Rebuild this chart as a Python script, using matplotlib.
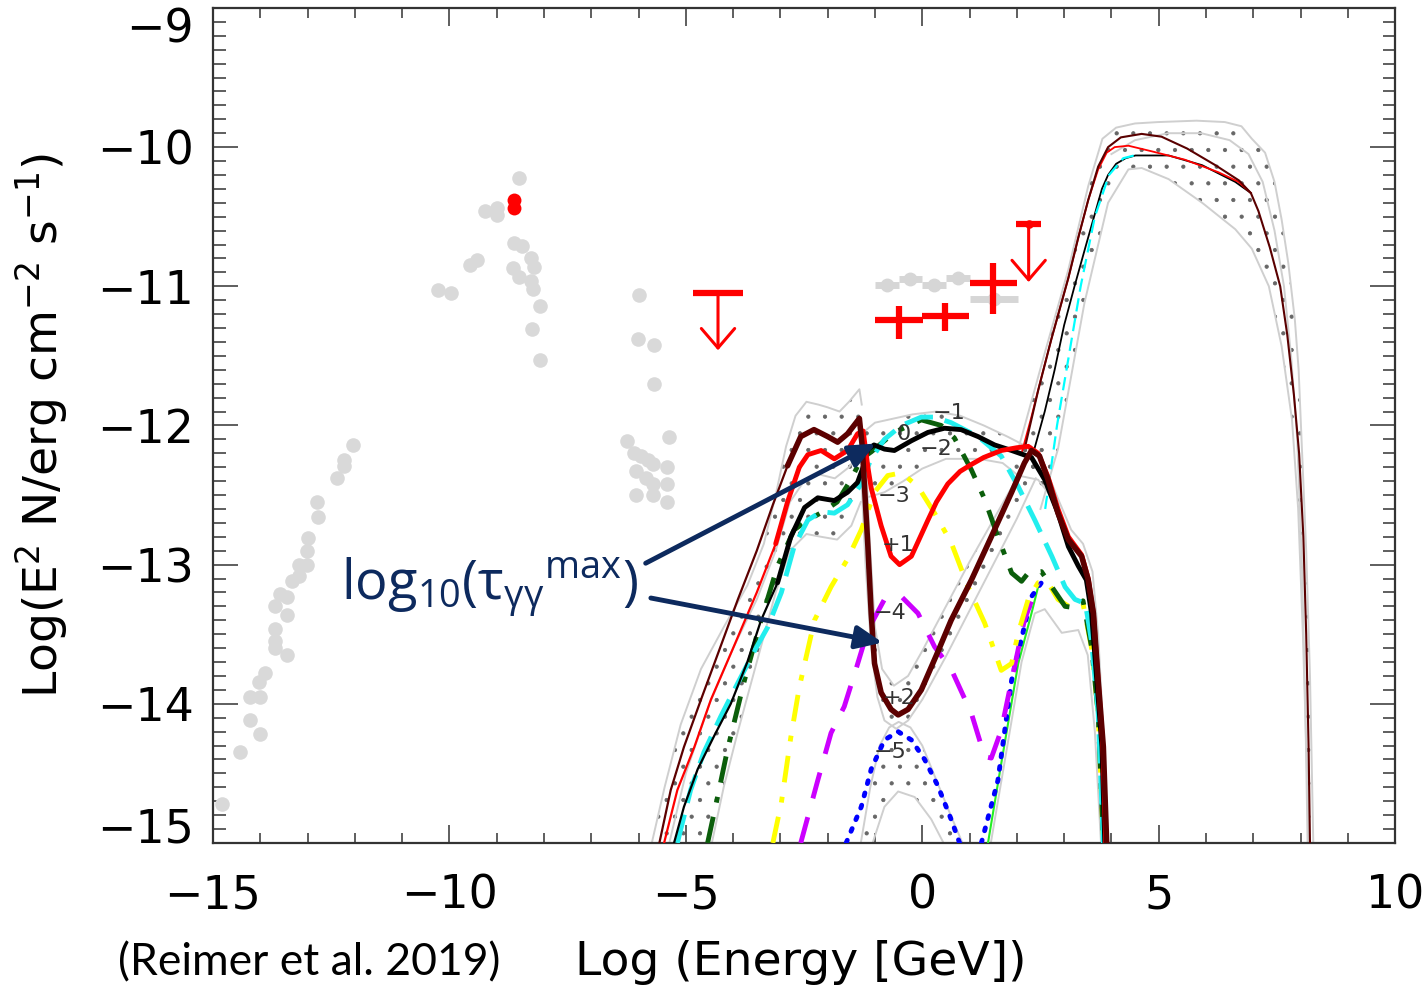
import numpy as np
import matplotlib
matplotlib.use("Agg")
import matplotlib.pyplot as plt
from matplotlib.ticker import MultipleLocator

# ---------------------------------------------------------------------------
# Observed SED points (log E [GeV], log E^2 N)
# ---------------------------------------------------------------------------
obs_x = [-14.82, -14.44, -14.22, -14.00, -14.22, -14.00, -14.02, -13.90, -13.44,
         -13.69, -13.69, -13.69, -13.44, -13.69, -13.58, -13.44, -13.33, -13.19,
         -13.19, -13.02, -13.02, -13.00, -12.77, -12.80, -12.38, -12.22, -12.22,
         -12.03, -10.25, -9.96, -9.57, -9.41, -9.24, -8.99, -8.99, -8.53, -8.64,
         -8.46, -8.28, -8.21, -8.65, -8.53, -8.28, -8.23, -8.09, -8.26, -8.09,
         -6.00, -6.02, -5.68, -5.68, -6.25, -5.36, -6.10, -5.95, -5.80, -5.70,
         -5.40, -6.05, -5.85, -5.70, -5.40, -6.05, -5.70, -5.40]
obs_y = [-14.72, -14.35, -14.12, -14.22, -13.95, -13.95, -13.84, -13.78, -13.65,
         -13.60, -13.55, -13.46, -13.36, -13.30, -13.21, -13.23, -13.12, -13.08,
         -13.00, -13.00, -12.90, -12.81, -12.66, -12.55, -12.38, -12.29, -12.25,
         -12.14, -11.03, -11.05, -10.85, -10.81, -10.46, -10.44, -10.49, -10.22,
         -10.69, -10.71, -10.80, -10.86, -10.87, -10.93, -10.96, -11.02, -11.14,
         -11.31, -11.53, -11.06, -11.38, -11.42, -11.70, -12.11, -12.08, -12.20,
         -12.22, -12.25, -12.28, -12.30, -12.33, -12.38, -12.42, -12.42, -12.50,
         -12.50, -12.55]

flare_x = [-8.64, -8.64]
flare_y = [-10.38, -10.44]

# binned gamma-ray spectrum (archival)
lat_x = [-0.75, -0.25, 0.25, 0.76, 1.52]
lat_y = [-10.99, -10.945, -10.99, -10.94, -11.09]
lat_xerr = [0.25, 0.25, 0.25, 0.25, 0.5]

# binned gamma-ray spectrum (flare)
flr_x = [-0.49, 0.49, 1.50]
flr_y = [-11.24, -11.21, -10.98]
flr_xerr = [0.5, 0.5, 0.5]
flr_yerr_lo = [0.14, 0.11, 0.22]
flr_yerr_hi = [0.10, 0.09, 0.15]

# upper limits: energy, half bin width, flux, arrow tip
ul_x = [-4.32, 2.25]
ul_halfw = [0.52, 0.26]
ul_y = [-11.045, -10.55]
ul_tip = [-11.46, -10.97]

# ---------------------------------------------------------------------------
# Model spectra, one per log10(tau_gg^max)
# ---------------------------------------------------------------------------
p2_x = [-5.56, -5.32, -5.04, -4.68, -4.30, -3.90, -3.50, -3.16, -2.85, -2.57,
        -2.29, -2.00, -1.79, -1.58, -1.33, -1.27, -1.15, -1.08, -1.01, -0.87,
        -0.66, -0.51, -0.30, -0.02, 0.30, 0.61, 1.04, 1.46, 1.89, 2.16, 2.31,
        2.48, 2.66, 2.87, 3.09, 3.37, 3.51, 3.62, 3.72, 3.83, 3.90]
p2_y = [-15.00, -14.62, -14.31, -13.97, -13.62, -13.25, -12.90, -12.57, -12.29,
        -12.08, -12.03, -12.08, -12.12, -12.06, -11.95, -12.15, -12.87, -13.35,
        -13.71, -13.92, -14.04, -14.08, -14.04, -13.90, -13.65, -13.40, -13.11,
        -12.80, -12.48, -12.27, -12.18, -12.22, -12.39, -12.63, -12.82, -12.94,
        -13.11, -13.35, -13.83, -14.31, -15.00]

p1_x = [-5.46, -5.18, -4.82, -4.47, -4.00, -3.50, -3.10, -2.85, -2.60, -2.42,
        -2.14, -1.86, -1.58, -1.37, -1.25, -1.15, -1.08, -0.87, -0.66, -0.48,
        -0.23, 0.12, 0.30, 0.54, 0.80, 1.04, 1.30, 1.67, 2.00, 2.24, 2.45, 2.66,
        2.87, 3.09, 3.37, 3.51, 3.62, 3.72, 3.82, 3.88]
p1_y = [-15.00, -14.62, -14.31, -13.97, -13.60, -13.20, -12.85, -12.55, -12.30,
        -12.21, -12.18, -12.24, -12.18, -12.06, -12.04, -12.30, -12.45, -12.72,
        -12.94, -13.00, -12.94, -12.68, -12.55, -12.42, -12.33, -12.28, -12.23,
        -12.18, -12.16, -12.15, -12.20, -12.37, -12.60, -12.80, -12.93, -13.10,
        -13.35, -13.83, -14.31, -15.00]

t0_x = [-5.25, -5.04, -4.75, -4.40, -4.05, -3.70, -3.41, -3.06, -2.78, -2.49,
        -2.21, -1.86, -1.58, -1.37, -1.25, -1.15, -1.02, -0.80, -0.59, -0.23,
        0.12, 0.47, 0.82, 1.18, 1.53, 1.89, 2.31, 2.59, 2.87, 3.09, 3.30, 3.47,
        3.58, 3.69, 3.80, 3.86]
t0_y = [-15.00, -14.74, -14.47, -14.23, -14.00, -13.70, -13.40, -13.13, -12.80,
        -12.59, -12.52, -12.54, -12.48, -12.41, -12.30, -12.17, -12.14, -12.17,
        -12.18, -12.11, -12.05, -12.02, -12.03, -12.08, -12.14, -12.18, -12.23,
        -12.39, -12.63, -12.87, -13.01, -13.11, -13.35, -13.83, -14.31, -15.00]

m1_x = [-5.18, -4.90, -4.62, -4.26, -3.90, -3.55, -3.27, -2.98, -2.71, -2.42,
        -2.14, -1.86, -1.58, -1.33, -1.08, -0.80, -0.44, -0.02, 0.26, 0.61, 1.18,
        1.67, 2.03, 2.38, 2.74, 3.02, 3.23, 3.45, 3.58, 3.72, 3.83]
m1_y = [-15.00, -14.62, -14.35, -14.09, -13.85, -13.62, -13.45, -13.20, -12.87,
        -12.68, -12.62, -12.63, -12.57, -12.44, -12.24, -12.10, -12.00, -11.94,
        -11.94, -11.98, -12.08, -12.22, -12.44, -12.68, -12.94, -13.16, -13.25,
        -13.28, -13.55, -14.07, -15.00]

m2_x = [-4.54, -4.33, -4.12, -3.76, -3.41, -3.06, -2.71, -2.42, -2.10, -1.80,
        -1.51, -1.29, -1.08, -0.59, -0.02, 0.40, 0.68, 1.04, 1.32, 1.60, 1.89,
        2.10, 2.24, 2.52, 2.74, 3.02, 3.23, 3.40, 3.58, 3.72, 3.83]
m2_y = [-15.00, -14.67, -14.33, -13.83, -13.40, -13.01, -12.75, -12.68, -12.62,
        -12.55, -12.39, -12.24, -12.19, -12.05, -11.96, -12.00, -12.09, -12.32,
        -12.53, -12.80, -13.06, -13.12, -13.06, -13.05, -13.16, -13.30, -13.31,
        -13.26, -13.59, -14.07, -15.00]

m3_x = [-3.16, -2.98, -2.78, -2.60, -2.28, -1.93, -1.58, -1.29, -1.01, -0.73,
        -0.44, -0.09, 0.26, 0.61, 0.97, 1.32, 1.67, 1.89, 2.03, 2.24, 2.45, 2.66,
        2.87, 3.10, 3.40, 3.58, 3.72, 3.83]
m3_y = [-15.00, -14.71, -14.24, -13.88, -13.40, -13.16, -12.96, -12.75, -12.48,
        -12.36, -12.34, -12.44, -12.63, -12.84, -13.16, -13.42, -13.76, -13.71,
        -13.49, -13.25, -13.13, -13.13, -13.25, -13.30, -13.28, -13.60, -14.07,
        -15.00]

m4_x = [-2.57, -2.21, -1.93, -1.65, -1.40, -1.15, -0.80, -0.44, -0.09, 0.26,
        0.61, 1.04, 1.32, 1.46, 1.67, 1.89, 2.16, 2.45]
m4_y = [-15.00, -14.55, -14.21, -14.02, -13.75, -13.47, -13.25, -13.23, -13.35,
        -13.59, -13.75, -14.07, -14.38, -14.39, -14.19, -13.83, -13.40, -13.13]

m5_x = [-1.61, -1.29, -1.08, -0.80, -0.51, -0.23, 0.05, 0.33, 0.61, 0.79]
m5_y = [-15.00, -14.74, -14.47, -14.26, -14.20, -14.26, -14.40, -14.59, -14.83,
        -15.00]
m5b_x = [1.25, 1.60, 1.89, 2.31, 2.52]
m5b_y = [-15.00, -14.55, -13.83, -13.23, -13.13]

lime_x = [1.39, 1.67, 2.03, 2.31, 2.45]
lime_y = [-15.00, -14.43, -13.71, -13.35, -13.16]

# TeV component
vb_x = [2.17, 2.45, 2.73, 3.09, 3.30, 3.51, 3.72, 3.93, 4.20, 4.64, 5.06, 5.60,
        6.20, 6.70, 6.95, 7.11, 7.35, 7.57, 7.72, 7.86, 7.97, 8.06, 8.12, 8.17,
        8.20]
vb_y = [-12.16, -11.75, -11.38, -10.94, -10.65, -10.38, -10.14, -10.00, -9.93,
        -9.905, -9.925, -10.01, -10.13, -10.24, -10.33, -10.46, -10.72, -11.00,
        -11.35, -11.78, -12.20, -12.80, -13.50, -14.30, -15.00]
vr_x = [2.10, 2.30, 2.50, 2.73, 3.09, 3.30, 3.51, 3.72, 3.90, 4.07, 4.36, 4.85,
        5.55, 6.26, 6.69, 6.95]
vr_y = [-12.20, -11.95, -11.68, -11.38, -10.94, -10.65, -10.38, -10.16, -10.04,
        -10.00, -9.99, -10.03, -10.09, -10.18, -10.25, -10.33]
vk_x = [2.37, 2.59, 2.80, 3.00, 3.22, 3.45, 3.65, 3.80, 3.93, 4.10, 4.30, 4.51,
        5.21, 5.92, 6.62, 6.95]
vk_y = [-12.17, -11.90, -11.60, -11.28, -11.00, -10.72, -10.48, -10.30, -10.20,
        -10.12, -10.08, -10.06, -10.06, -10.13, -10.25, -10.33]
vc_x = [2.60, 2.85, 3.05, 3.35, 3.65, 3.95, 4.25, 4.60]
vc_y = [-12.60, -12.00, -11.60, -11.00, -10.50, -10.20, -10.08, -10.05]

# uncertainty envelopes
g_vhe_up_x = [2.03, 2.59, 3.09, 3.51, 3.81, 4.10, 4.50, 4.99, 5.80, 6.40, 6.75,
              6.97, 7.25, 7.45, 7.60, 7.74, 7.88, 7.96, 8.03, 8.12, 8.20, 8.27]
g_vhe_up_y = [-12.17, -11.48, -10.88, -10.28, -9.94, -9.86, -9.83, -9.82, -9.81,
              -9.82, -9.85, -9.94, -10.04, -10.25, -10.52, -10.83, -11.24, -11.60,
              -12.17, -12.90, -13.80, -15.00]
g_vhe_lo_x = [2.50, 2.87, 3.43, 3.93, 4.36, 4.64, 5.21, 5.92, 6.62, 6.97, 7.33,
              7.60, 7.82, 7.95, 8.05, 8.12, 8.18]
g_vhe_lo_y = [-12.60, -12.17, -11.12, -10.40, -10.16, -10.15, -10.23, -10.40,
              -10.59, -10.73, -11.00, -11.43, -11.96, -12.60, -13.50, -14.30,
              -15.00]
g_vhe_mid_x = [4.00, 4.50, 5.20, 5.90, 6.50, 6.90, 7.20, 7.45, 7.65, 7.80, 7.93,
               8.03, 8.10, 8.15]
g_vhe_mid_y = [-10.05, -9.95, -9.90, -9.90, -9.95, -10.05, -10.25, -10.60, -11.00,
               -11.50, -12.10, -13.00, -14.00, -15.00]

g_l1_x = [-5.72, -5.45, -5.11, -4.68, -4.20, -3.70, -3.35, -3.10, -2.88, -2.68,
          -2.45, -2.20, -2.00, -1.75, -1.55, -1.33, -1.28]
g_l1_y = [-15.00, -14.60, -14.15, -13.75, -13.45, -13.15, -12.85, -12.50, -12.15,
          -11.93, -11.83, -11.85, -11.87, -11.90, -11.83, -11.74, -11.85]
g_l2_x = [-4.45, -4.20, -3.90, -3.50, -3.10, -2.80, -2.45, -2.14, -1.80, -1.50,
          -1.30]
g_l2_y = [-15.00, -14.60, -14.20, -13.70, -13.20, -12.90, -12.78, -12.80, -12.82,
          -12.72, -12.55]
g_l3_x = [-5.35, -5.00, -4.50, -4.00, -3.50, -3.10, -2.80, -2.50, -2.20, -1.85,
          -1.55, -1.33]
g_l3_y = [-15.00, -14.50, -14.00, -13.60, -13.25, -12.90, -12.55, -12.40, -12.35,
          -12.38, -12.30, -12.20]

g_m_up_x = [-1.25, -1.00, -0.60, -0.20, 0.30, 0.80, 1.30, 1.80, 2.20]
g_m_up_y = [-12.05, -11.98, -11.95, -11.92, -11.90, -11.93, -12.00, -12.08,
            -12.15]
g_m_lo_x = [-1.20, -0.80, -0.40, 0.00, 0.50, 1.20, 1.70, 2.03, 2.45, 2.70]
g_m_lo_y = [-12.52, -12.48, -12.40, -12.31, -12.24, -12.24, -12.27, -12.36,
            -12.39, -12.50]

g_r_up_x = [2.30, 2.60, 2.90, 3.15, 3.40, 3.60, 3.72, 3.83, 3.93]
g_r_up_y = [-12.15, -12.30, -12.55, -12.75, -12.85, -13.05, -13.50, -14.20,
            -15.00]
g_r_lo_x = [1.45, 1.80, 2.10, 2.38, 2.59, 2.95, 3.30, 3.50, 3.65, 3.78]
g_r_lo_y = [-15.00, -14.30, -13.70, -13.35, -13.32, -13.49, -13.47, -13.65,
            -14.20, -15.00]

g_v_up_x = [-1.20, -1.10, -1.00, -0.85, -0.60, -0.30, 0.00, 0.50, 1.00, 1.50,
            2.00, 2.30]
g_v_up_y = [-12.20, -12.90, -13.45, -13.75, -13.87, -13.80, -13.62, -13.30,
            -12.98, -12.68, -12.38, -12.20]
g_v_lo_x = [-1.30, -1.20, -1.08, -0.95, -0.80, -0.55, -0.30, 0.00, 0.50, 1.00,
            1.50, 2.00, 2.40]
g_v_lo_y = [-12.30, -13.00, -13.60, -13.95, -14.12, -14.18, -14.12, -13.97,
            -13.66, -13.33, -13.00, -12.67, -12.38]

g_h_out_x = [-1.30, -1.10, -0.90, -0.70, -0.50, -0.25, 0.00, 0.30, 0.60, 0.85]
g_h_out_y = [-15.00, -14.60, -14.30, -14.17, -14.13, -14.17, -14.30, -14.55,
             -14.80, -15.00]
g_h_in_x = [-1.05, -0.80, -0.51, -0.16, 0.19, 0.45]
g_h_in_y = [-15.00, -14.74, -14.63, -14.67, -14.83, -15.00]

tau_labels = ["0", "\u22121", "\u22122", "\u22123", "+1", "\u22124", "+2", "\u22125"]
tau_lab_x = [-0.39, 0.57, 0.30, -0.59, -0.51, -0.68, -0.49, -0.68]
tau_lab_y = [-12.06, -11.91, -12.17, -12.51, -12.86, -13.35, -13.96, -14.35]

xticks_major = [-15, -10, -5, 0, 5, 10]
yticks_major = [-15, -14, -13, -12, -11, -10, -9]

# ---------------------------------------------------------------------------
plt.rcParams["hatch.linewidth"] = 0.6

fig = plt.figure(figsize=(14.24, 9.93), dpi=100)
ax = fig.add_axes([0.1496, 0.1511, 0.8301, 0.8409])
ax.set_xlim(-15, 10)
ax.set_ylim(-15, -9)

GREY_LINE = "#cfcfcf"
HATCH = "#666666"


def band(xa, ya, xb, yb):
    px = np.r_[xa, xb[::-1]]
    py = np.r_[ya, yb[::-1]]
    ax.fill(px, py, facecolor="none", edgecolor=HATCH, hatch=".", lw=0, zorder=1)


band(g_vhe_up_x, g_vhe_up_y, g_vhe_lo_x, g_vhe_lo_y)
band(g_l1_x, g_l1_y, g_l2_x, g_l2_y)
band(g_m_up_x, g_m_up_y, g_m_lo_x, g_m_lo_y)
band(g_v_up_x, g_v_up_y, g_v_lo_x, g_v_lo_y)
band(g_h_out_x, g_h_out_y, g_h_in_x, g_h_in_y)

for gx, gy in [(g_vhe_up_x, g_vhe_up_y), (g_vhe_lo_x, g_vhe_lo_y),
               (g_vhe_mid_x, g_vhe_mid_y), (g_l1_x, g_l1_y), (g_l2_x, g_l2_y),
               (g_l3_x, g_l3_y), (g_m_up_x, g_m_up_y), (g_m_lo_x, g_m_lo_y),
               (g_r_up_x, g_r_up_y), (g_r_lo_x, g_r_lo_y), (g_v_up_x, g_v_up_y),
               (g_v_lo_x, g_v_lo_y), (g_h_out_x, g_h_out_y), (g_h_in_x, g_h_in_y)]:
    ax.plot(gx, gy, color=GREY_LINE, lw=1.4, zorder=2)

# observations
ax.plot(obs_x, obs_y, "o", ms=10.5, color="#d9d9d9", mec="none", zorder=3)
ax.plot(flare_x, flare_y, "o", ms=10, color="red", mec="none", zorder=3)
ax.errorbar(lat_x, lat_y, xerr=lat_xerr, fmt="o", ms=10, color="#d6d6d6",
            mec="none", elinewidth=5, capsize=0, zorder=3)
ax.errorbar(flr_x, flr_y, xerr=flr_xerr, yerr=[flr_yerr_lo, flr_yerr_hi],
            fmt="none", ecolor="red", elinewidth=4.5, capsize=0, zorder=4)
for x, hw, y, tip in zip(ul_x, ul_halfw, ul_y, ul_tip):
    ax.plot([x - hw, x + hw], [y, y], color="red", lw=4.5, solid_capstyle="butt",
            zorder=4)
    ax.annotate("", xy=(x, tip), xytext=(x, y),
                arrowprops=dict(arrowstyle="->,head_length=0.35,head_width=0.3",
                                color="red", lw=2.2, mutation_scale=40,
                                shrinkA=0, shrinkB=0), zorder=4)
ax.plot([ul_x[1]], [ul_y[1]], "o", ms=5, mfc="none", mec="red", mew=1.2, zorder=4)

# TeV component (thin lines)
ax.plot(vk_x, vk_y, color="black", lw=1.3, zorder=5)
ax.plot(vc_x, vc_y, color="cyan", lw=1.6, dashes=(6, 3), zorder=5)
ax.plot(vr_x, vr_y, color="red", lw=1.3, zorder=5)
ax.plot(vb_x, vb_y, color="#5a0000", lw=1.5, zorder=5)

# model curves
THIN_BELOW = -3.12


def model(xs, ys, color, lw, **kw):
    ax.plot(xs, ys, color=color, lw=lw, zorder=6, **kw)


def model_split(xs, ys, color, lw):
    xs = np.asarray(xs)
    ys = np.asarray(ys)
    ax.plot(xs, ys, color=color, lw=1.6, zorder=6)
    k = xs >= THIN_BELOW
    ax.plot(xs[k], ys[k], color=color, lw=lw, zorder=7,
            solid_capstyle="round", solid_joinstyle="round")


model(lime_x, lime_y, "#22ee22", 1.5)
model(m5_x, m5_y, "#0000ff", 3.5, dashes=(0.6, 2.0), dash_capstyle="round")
model(m5b_x, m5b_y, "#0000ff", 3.5, dashes=(0.6, 2.0), dash_capstyle="round")
model(m4_x, m4_y, "#cc00ff", 3.5, dashes=(5.5, 4))
model(m3_x, m3_y, "#ffff00", 3.5, dashes=(5.5, 3, 1.2, 3))
model(m2_x, m2_y, "#0b5e0b", 3.5, dashes=(5.5, 3, 1.2, 3))
model(m1_x, m1_y, "#22eeee", 3.5, dashes=(6, 2.5))
model_split(t0_x, t0_y, "black", 3.5)
model_split(p1_x, p1_y, "#ff0000", 3.5)
model_split(p2_x, p2_y, "#5c0000", 4.0)

for s, x, y in zip(tau_labels, tau_lab_x, tau_lab_y):
    ax.text(x, y, s, fontsize=16, color="#333333", ha="center", va="center",
            zorder=8)

# annotation
NAVY = "#0d2a5e"
ax.text(-12.3, -13.25, r"$\mathregular{log_{10}(\tau_{\gamma\gamma}{}^{max})}$",
        fontsize=39, color=NAVY, family="Open Sans", ha="left", va="baseline",
        zorder=9)
ax.annotate("", xy=(-0.98, -12.13), xytext=(-5.85, -12.99),
            arrowprops=dict(arrowstyle="-|>,head_length=0.8,head_width=0.35",
                            color=NAVY, lw=3.5, mutation_scale=20,
                            shrinkA=0, shrinkB=0), zorder=9)
ax.annotate("", xy=(-0.84, -13.56), xytext=(-5.74, -13.24),
            arrowprops=dict(arrowstyle="-|>,head_length=0.8,head_width=0.35",
                            color=NAVY, lw=3.5, mutation_scale=20,
                            shrinkA=0, shrinkB=0), zorder=9)

# axes styling
ax.set_xticks(xticks_major)
ax.set_yticks(yticks_major)
ax.xaxis.set_minor_locator(MultipleLocator(1))
ax.yaxis.set_minor_locator(MultipleLocator(0.1))
ax.tick_params(which="both", direction="in", top=True, right=True,
               color="#333333", width=1.1)
ax.tick_params(axis="x", which="major", length=13, pad=22, labelsize=33)
ax.tick_params(axis="x", which="minor", length=7)
ax.tick_params(axis="y", which="major", length=18, pad=14, labelsize=33)
ax.tick_params(axis="y", which="minor", length=9)
for sp in ax.spines.values():
    sp.set_color("#333333")
    sp.set_linewidth(1.6)

ymaj = ax.yaxis.get_major_ticks()
ymaj[-1].label1.set_va("top")
ymaj[0].label1.set_va("baseline")

ax.set_xlabel("Log (Energy [GeV])", fontsize=34, va="center")
ax.xaxis.set_label_coords(0.497, -0.143)
ax.set_ylabel(r"Log(E$^{2}$ N/erg cm$^{-2}$ s$^{-1}$)", fontsize=34,
              va="center")
ax.yaxis.set_label_coords(-0.145, 0.5)

fig.text(118 / 1424, 1 - 975 / 993, "(Reimer et al. 2019)", fontsize=32,
         family="Lato", va="baseline", ha="left")

fig.savefig("out.png", dpi=100)
